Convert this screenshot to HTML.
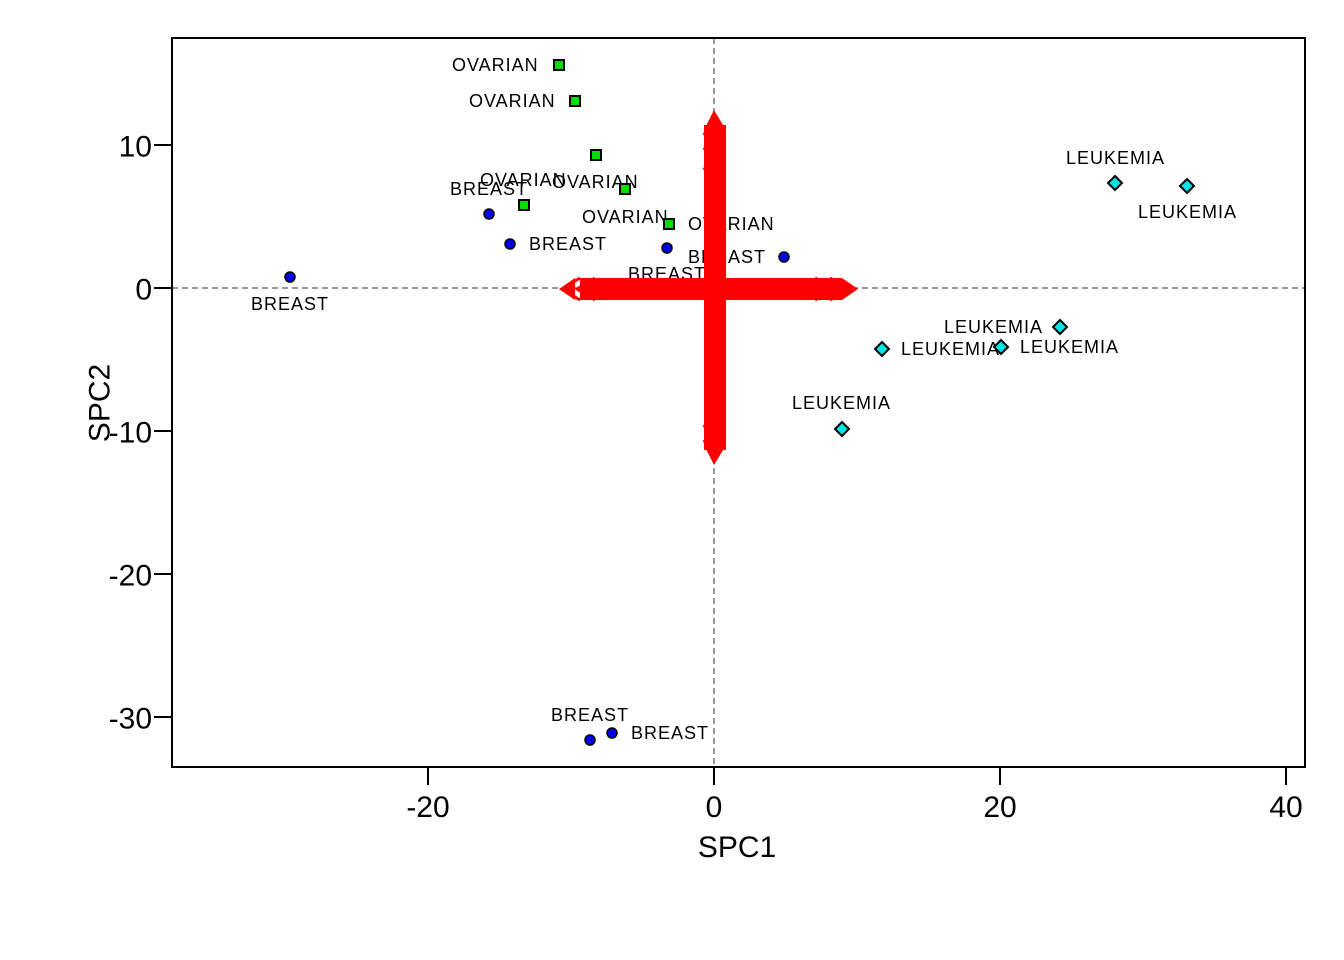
<!DOCTYPE html>
<html><head><style>body{margin:0;background:#fff}svg{display:block}</style></head><body>
<svg width="1344" height="960" xmlns="http://www.w3.org/2000/svg" font-family="Liberation Sans, sans-serif">
<rect width="1344" height="960" fill="#fff"/>
<line x1="172" y1="288" x2="1305" y2="288" stroke="#777" stroke-width="1.5" stroke-dasharray="6,4"/>
<line x1="714" y1="38" x2="714" y2="767" stroke="#777" stroke-width="1.5" stroke-dasharray="6,4"/>
<g font-size="18" fill="#000" dominant-baseline="central" letter-spacing="1">
<text x="452" y="65">OVARIAN</text>
<text x="469" y="101">OVARIAN</text>
<text x="480" y="180">OVARIAN</text>
<text x="552" y="182">OVARIAN</text>
<text x="582" y="217">OVARIAN</text>
<text x="688" y="224">OVARIAN</text>
<text x="450" y="189">BREAST</text>
<text x="529" y="244">BREAST</text>
<text x="688" y="257">BREAST</text>
<text x="628" y="274">BREAST</text>
<text x="251" y="304">BREAST</text>
<text x="551" y="715">BREAST</text>
<text x="631" y="733">BREAST</text>
<text x="1066" y="158">LEUKEMIA</text>
<text x="1138" y="212">LEUKEMIA</text>
<text x="944" y="327">LEUKEMIA</text>
<text x="901" y="349">LEUKEMIA</text>
<text x="1020" y="347">LEUKEMIA</text>
<text x="792" y="403">LEUKEMIA</text>
</g>
<g fill="#00dd00" stroke="#000" stroke-width="2">
<rect x="554" y="60" width="10" height="10"/>
<rect x="570" y="96" width="10" height="10"/>
<rect x="591" y="150" width="10" height="10"/>
<rect x="620" y="184" width="10" height="10"/>
<rect x="519" y="200" width="10" height="10"/>
<rect x="664" y="219" width="10" height="10"/>
</g>
<g fill="#0000ee" stroke="#000" stroke-width="1.5">
<circle cx="489" cy="214" r="5"/><circle cx="510" cy="244" r="5"/><circle cx="667" cy="248" r="5"/>
<circle cx="784" cy="257" r="5"/><circle cx="290" cy="277" r="5"/><circle cx="590" cy="740" r="5"/><circle cx="612" cy="733" r="5"/>
</g>
<g fill="#00e5e5" stroke="#000" stroke-width="2">
<path d="M1115 176l7 7-7 7-7-7z"/><path d="M1187 179l7 7-7 7-7-7z"/><path d="M1060 320l7 7-7 7-7-7z"/>
<path d="M882 342l7 7-7 7-7-7z"/><path d="M1001 340l7 7-7 7-7-7z"/><path d="M842 422l7 7-7 7-7-7z"/>
</g>
<g fill="#ff0000" stroke="none">
<rect x="704" y="125" width="22" height="325"/>
<rect x="580" y="278" width="262" height="22"/>
<path d="M704 130l10-20 12 20z M704 445l10 20 12-20z M575 278l-16 11 16 11z M842 278l16 11-16 11z"/>
</g>
<g stroke="#ff0000" stroke-width="3" fill="none">
<path d="M704 135l10-20 10 20 M704 150l10-20 10 20 M704 170l10-20 10 20"/>
<path d="M704 440l10 20 10-20 M704 425l10 20 10-20"/>
<path d="M580 278l-18 11 18 11 M595 278l-18 11 18 11"/>
<path d="M830 278l20 11-20 11 M815 278l20 11-20 11"/>
</g>
<rect x="172" y="38" width="1133" height="729" fill="none" stroke="#000" stroke-width="2"/>
<g stroke="#000" stroke-width="2">
<line x1="428" y1="767" x2="428" y2="785"/><line x1="714" y1="767" x2="714" y2="785"/>
<line x1="1000" y1="767" x2="1000" y2="785"/><line x1="1286" y1="767" x2="1286" y2="785"/>
<line x1="154" y1="145" x2="172" y2="145"/><line x1="154" y1="288" x2="172" y2="288"/>
<line x1="154" y1="431" x2="172" y2="431"/><line x1="154" y1="574" x2="172" y2="574"/><line x1="154" y1="717" x2="172" y2="717"/>
</g>
<g font-size="30" fill="#000" text-anchor="middle">
<text x="428" y="817">-20</text><text x="714" y="817">0</text><text x="1000" y="817">20</text><text x="1286" y="817">40</text>
<text x="737" y="857">SPC1</text>
</g>
<g font-size="30" fill="#000" text-anchor="end" dominant-baseline="central">
<text x="152" y="147">10</text><text x="152" y="290">0</text><text x="152" y="433">-10</text>
<text x="152" y="576">-20</text><text x="152" y="719">-30</text>
</g>
<text x="100" y="403" font-size="30" text-anchor="middle" transform="rotate(-90 100 403)" dominant-baseline="central">SPC2</text>
</svg>
</body></html>
